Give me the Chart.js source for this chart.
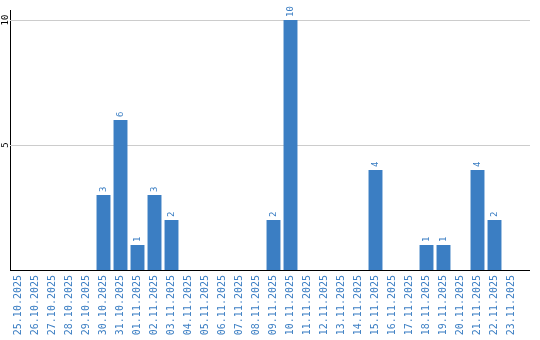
<!DOCTYPE html>
<html>
<head>
<meta charset="utf-8">
<script src="https://cdn.jsdelivr.net/npm/chart.js@4.4.1/dist/chart.umd.min.js"></script>
<style>
  html, body { margin: 0; padding: 0; background: #fff; }
  #wrap { width: 540px; height: 340px; }
</style>
</head>
<body>
<div id="wrap"><canvas id="chart"></canvas></div>
<script>
// Daily counts
const dates = [
    '25.10.2025', '26.10.2025', '27.10.2025', '28.10.2025', '29.10.2025',
    '30.10.2025', '31.10.2025', '01.11.2025', '02.11.2025', '03.11.2025',
    '04.11.2025', '05.11.2025', '06.11.2025', '07.11.2025', '08.11.2025',
    '09.11.2025', '10.11.2025', '11.11.2025', '12.11.2025', '13.11.2025',
    '14.11.2025', '15.11.2025', '16.11.2025', '17.11.2025', '18.11.2025',
    '19.11.2025', '20.11.2025', '21.11.2025', '22.11.2025', '23.11.2025'
];
const counts = [
    0, 0, 0, 0, 0,
    3, 6, 1, 3, 2,
    0, 0, 0, 0, 0,
    2, 10, 0, 0, 0,
    0, 4, 0, 0, 1,
    1, 0, 4, 2, 0
];
const yTicks = [5, 10];

const barColor = '#3b7ec3';
const fontFamily = "'DejaVu Sans Mono', monospace";

// grid lines + x baseline, drawn a bit past the last category like the original
const gridLines = {
    id: 'gridLines',
    beforeDatasetsDraw(chart) {
        const ctx = chart.ctx;
        const area = chart.chartArea;
        const y = chart.scales.y;
        const right = area.right + 10;
        ctx.save();
        ctx.lineWidth = 1;
        ctx.strokeStyle = '#cccccc';
        yTicks.forEach(v => {
            const py = Math.round(y.getPixelForValue(v)) + 0.5;
            ctx.beginPath();
            ctx.moveTo(area.left, py);
            ctx.lineTo(right, py);
            ctx.stroke();
        });
        ctx.restore();
    },
    afterDatasetsDraw(chart) {
        const ctx = chart.ctx;
        const area = chart.chartArea;
        const py = Math.round(chart.scales.y.getPixelForValue(0)) + 0.5;
        ctx.save();
        ctx.strokeStyle = '#000';
        ctx.lineWidth = 1;
        ctx.beginPath();
        ctx.moveTo(area.left, py);
        ctx.lineTo(area.right + 10, py);
        ctx.stroke();
        ctx.restore();
    }
};

// rotated value labels above bars
const valueLabels = {
    id: 'valueLabels',
    afterDatasetsDraw(chart) {
        const ctx = chart.ctx;
        const meta = chart.getDatasetMeta(0);
        ctx.save();
        ctx.fillStyle = barColor;
        ctx.font = `9px ${fontFamily}`;
        ctx.textAlign = 'left';
        ctx.textBaseline = 'middle';
        meta.data.forEach((bar, i) => {
            const v = counts[i];
            if (!v) return;
            ctx.save();
            ctx.translate(bar.x, bar.y - 3);
            ctx.rotate(-Math.PI / 2);
            ctx.fillText(String(v), 0, 0);
            ctx.restore();
        });
        ctx.restore();
    }
};

new Chart(document.getElementById('chart'), {
    type: 'bar',
    data: {
        labels: dates,
        datasets: [{
            data: counts,
            backgroundColor: barColor,
            borderWidth: 0,
            barPercentage: 0.82,
            categoryPercentage: 1
        }]
    },
    options: {
        responsive: true,
        maintainAspectRatio: false,
        animation: false,
        layout: { padding: { top: 10, right: 20, bottom: 0, left: 0 } },
        plugins: {
            legend: { display: false },
            tooltip: { enabled: false }
        },
        scales: {
            x: {
                grid: { display: false, drawTicks: false },
                border: { display: false },
                ticks: {
                    color: barColor,
                    font: { family: fontFamily, size: 10 },
                    autoSkip: false,
                    minRotation: 90,
                    maxRotation: 90,
                    padding: 5
                },
                afterFit(scale) { scale.height = 70; }
            },
            y: {
                min: 0,
                max: 10.4,
                grid: { display: false, drawTicks: false },
                border: { display: true, color: '#000', width: 1 },
                ticks: {
                    color: '#000',
                    font: { family: fontFamily, size: 9 },
                    minRotation: 90,
                    maxRotation: 90,
                    crossAlign: 'center',
                    padding: -1
                },
                afterBuildTicks(scale) { scale.ticks = yTicks.map(v => ({ value: v })); },
                afterFit(scale) { scale.width = 10; }
            }
        }
    },
    plugins: [gridLines, valueLabels]
});
</script>
</body>
</html>
